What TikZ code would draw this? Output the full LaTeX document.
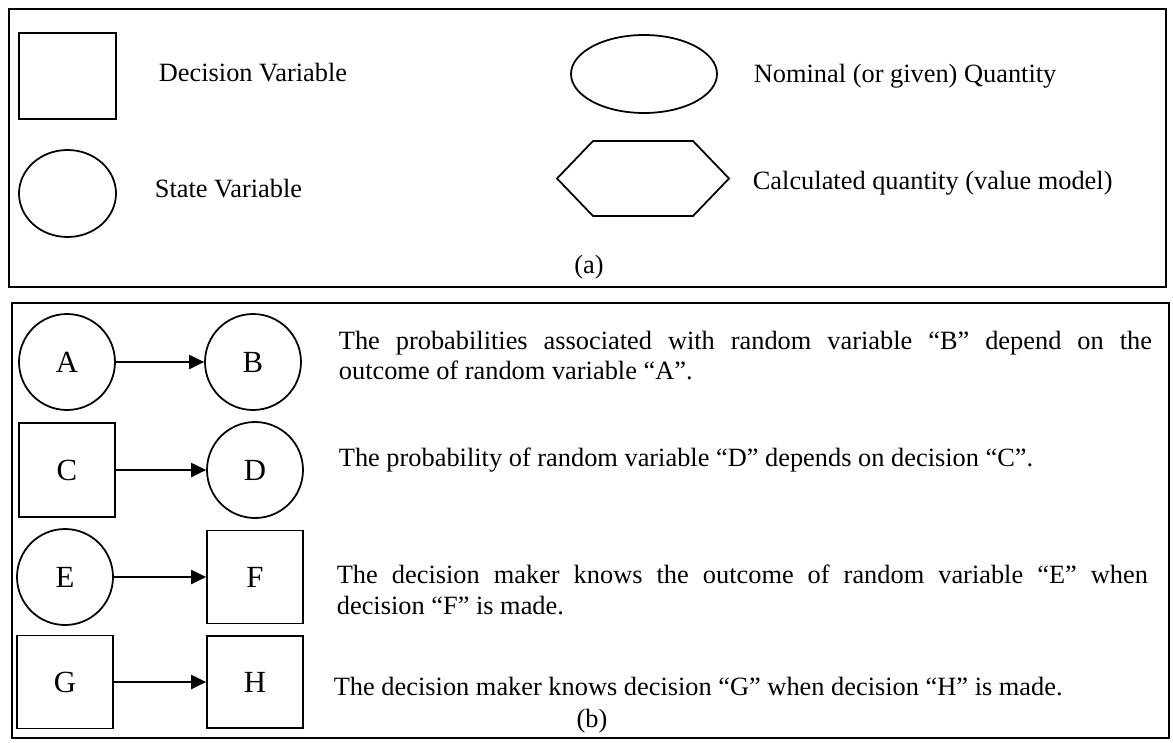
\documentclass[tikz,border=0pt]{standalone}
\usepackage{fontspec}
\setmainfont{Liberation Serif}
\usetikzlibrary{shapes.geometric, arrows.meta}
\newdimen\pxu
\pxu=0.455pt

\begin{document}
\begin{tikzpicture}[x=0.455pt, y=-0.455pt, line width=0.8pt,
        font=\fontsize{12}{14}\selectfont,
        dec/.style={draw, rectangle, inner sep=0pt, font=\fontsize{14}{16}\selectfont},
        state/.style={draw, circle, inner sep=0pt, minimum size=96\pxu, font=\fontsize{14}{16}\selectfont},
        txt/.style={anchor=base west, inner sep=0pt},
        para/.style={anchor=north west, inner sep=0pt, text width=813\pxu, align=justify},
        arr/.style={-{Triangle[length=6.8pt, width=6.4pt]}}]
        \useasboundingbox (0,0) rectangle (1173,742);

        % frames
        \draw[line width=1.1pt] (9,9) rectangle (1166,287);
        \draw[line width=1.1pt] (12,303) rectangle (1169,738);

        % legend
        \node[dec, minimum width=97\pxu, minimum height=86\pxu] (dv) at (67.5,76) {};
        \node[draw, ellipse, inner sep=0pt, minimum width=97\pxu, minimum height=87\pxu] (sv) at (67.5,193.5) {};
        \node[txt] (dvl) at (158,81) {Decision Variable};
        \node[txt] (svl) at (154,197) {State Variable};

        \node[draw, ellipse, inner sep=0pt, minimum width=146\pxu, minimum height=78\pxu] (nq) at (644,74) {};
        \draw (557,178.5) -- ++(36,-37.5) -- ++(100,0) -- ++(36,37.5) -- ++(-36,37.5) -- ++(-100,0) -- cycle;
        \node[txt] (nql) at (753,82) {Nominal (or given) Quantity};
        \node[txt] (cql) at (752,189) {Calculated quantity (value model)};
        \node[anchor=base] (capa) at (589,273) {(a)};

        % influences
        \node[state] (A) at (67,362) {A};
        \node[state] (B) at (253,362) {B};
        \node[dec, minimum width=96\pxu, minimum height=94\pxu] (C) at (67,470) {C};
        \node[state] (D) at (255,470) {D};
        \node[state] (E) at (65,577) {E};
        \node[dec, minimum width=96\pxu, minimum height=93\pxu] (F) at (255,577) {F};
        \node[dec, minimum width=96\pxu, minimum height=93\pxu] (G) at (65,682) {G};
        \node[dec, minimum width=96\pxu, minimum height=92\pxu] (H) at (255,682) {H};

        \draw[arr] (A) -- (B);
        \draw[arr] (C) -- (D);
        \draw[arr] (E) -- (F);
        \draw[arr] (G) -- (H);

        \node[para] (ab) at (338,330) {The probabilities associated with random variable “B” depend on the\linebreak outcome of random variable “A”.};
        \node[txt] (cd) at (338,466) {The probability of random variable “D” depends on decision “C”.};
        \node[para, text width=811\pxu] (ef) at (336,564) {The decision maker knows the outcome of random variable “E” when\linebreak decision “F” is made.};
        \node[txt] (gh) at (333,695) {The decision maker knows decision “G” when decision “H” is made.};
        \node[anchor=base] (capb) at (592,727) {(b)};
\end{tikzpicture}
\end{document}
